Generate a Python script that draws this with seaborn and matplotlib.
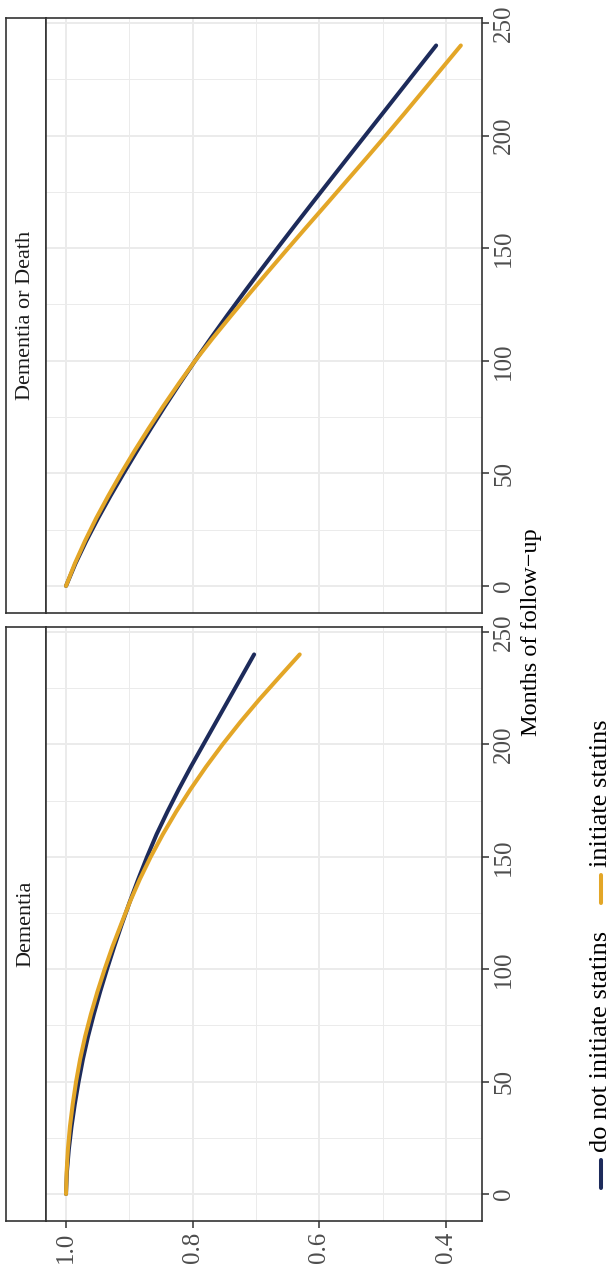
import numpy as np
import pandas as pd
import matplotlib
matplotlib.use("Agg")
import matplotlib.pyplot as plt
import seaborn as sns
from matplotlib.lines import Line2D

# ---------------- data ----------------
months = [0, 10, 20, 30, 40, 50, 60, 70, 80, 90, 100, 110, 120,
          130, 140, 150, 160, 170, 180, 190, 200, 210, 220, 230, 240]
dementia_no = [1.000, 0.9985, 0.9955, 0.9913, 0.9861, 0.9801, 0.9733, 0.9653, 0.9561,
               0.9461, 0.9353, 0.9239, 0.9119, 0.8993, 0.886, 0.872, 0.857, 0.840,
               0.822, 0.803, 0.783, 0.763, 0.743, 0.723, 0.703]
dementia_yes = [1.000, 0.999, 0.997, 0.9938, 0.9894, 0.9841, 0.9777, 0.9699, 0.9607,
                0.9504, 0.9390, 0.9267, 0.913, 0.899, 0.8835, 0.8662, 0.8471, 0.8262,
                0.8035, 0.7790, 0.7527, 0.7246, 0.6947, 0.6630, 0.6310]
dd_no = [1.000, 0.985, 0.968, 0.9495, 0.9298, 0.9091, 0.8878, 0.8659, 0.8434, 0.8202,
         0.7962, 0.7714, 0.7459, 0.7198, 0.6932, 0.6662, 0.6389, 0.6113, 0.5835,
         0.5556, 0.5276, 0.4996, 0.4716, 0.4436, 0.4156]
dd_yes = [1.000, 0.986, 0.970, 0.9525, 0.9333, 0.9131, 0.8918, 0.8694, 0.8461, 0.8217,
          0.7962, 0.7684, 0.7394, 0.7098, 0.6797, 0.6492, 0.6184, 0.5873, 0.5565,
          0.5256, 0.4951, 0.4651, 0.4356, 0.4061, 0.3766]

groups = ["do not initiate statins", "initiate statins"]
panels = ["Dementia", "Dementia or Death"]
surv_ticks = [1.0, 0.8, 0.6, 0.4]
surv_labels = ["1.0", "0.8", "0.6", "0.4"]
month_ticks = [0, 50, 100, 150, 200, 250]
xlabel = "Months of follow\u2212up"

colors = {"do not initiate statins": "#1d2b5b", "initiate statins": "#e3a627"}

rows = []
for panel, no, yes in [("Dementia", dementia_no, dementia_yes),
                       ("Dementia or Death", dd_no, dd_yes)]:
    for m, v in zip(months, no):
        rows.append((panel, groups[0], m, v))
    for m, v in zip(months, yes):
        rows.append((panel, groups[1], m, v))
df = pd.DataFrame(rows, columns=["panel", "group", "months", "survival"])

# ---------------- style ----------------
sns.set_theme(style="white")
plt.rcParams['font.family'] = ['Liberation Serif', 'DejaVu Serif']

W, H = 612, 1270
fig = plt.figure(figsize=(W / 100, H / 100), dpi=100)


def rect(x0, y0, x1, y1):
    return [x0 / W, 1 - y1 / H, (x1 - x0) / W, (y1 - y0) / H]


border = "#333333"
grid_c = "#ebebeb"
layout = {"Dementia or Death": (18, 613), "Dementia": (627, 1221)}
strip_x0, panel_x0, panel_x1 = 6, 46, 482

for panel in panels:
    y0, y1 = layout[panel]
    # strip (left side)
    sax = fig.add_axes(rect(strip_x0, y0, panel_x0, y1))
    sax.set_facecolor("white")
    sax.set_xticks([]); sax.set_yticks([])
    for sp in sax.spines.values():
        sp.set_color(border); sp.set_linewidth(1.2); sp.set_visible(True)
    sax.text(0.5, 0.5, panel, rotation=90, ha="center", va="center",
             fontsize=16, color="#1a1a1a", transform=sax.transAxes)

    ax = fig.add_axes(rect(panel_x0, y0, panel_x1, y1))
    ax.set_facecolor("white")
    sub = df[df["panel"] == panel]
    sns.lineplot(data=sub, x="survival", y="months", hue="group",
                 hue_order=groups, palette=colors, orient="y",
                 linewidth=2.9, legend=False, ax=ax)
    ax.set_xlim(1.0316, 0.3432)
    ax.set_ylim(-12, 252.2)

    ax.set_xticks(surv_ticks)
    ax.set_xticks([0.9, 0.7, 0.5], minor=True)
    ax.set_yticks(month_ticks)
    ax.set_yticks([25, 75, 125, 175, 225], minor=True)
    ax.grid(which="major", color=grid_c, linewidth=1.4)
    ax.grid(which="minor", color=grid_c, linewidth=0.7)
    ax.set_axisbelow(True)

    ax.yaxis.tick_right()
    ax.set_yticklabels([str(t) for t in month_ticks])
    ax.tick_params(axis="y", which="major", right=True, left=False, length=5,
                   width=1.1, color=border, labelsize=18, labelcolor="#4d4d4d",
                   pad=3)
    ax.tick_params(axis="both", which="minor", length=0)
    plt.setp(ax.get_yticklabels(), rotation=90, va="center", ha="left")

    if panel == "Dementia":
        ax.set_xticklabels(surv_labels)
        ax.tick_params(axis="x", which="major", bottom=True, length=5,
                       width=1.1, color=border, labelsize=18,
                       labelcolor="#4d4d4d", pad=3)
        plt.setp(ax.get_xticklabels(), rotation=90, ha="center", va="top")
    else:
        ax.tick_params(axis="x", which="major", bottom=False,
                       labelbottom=False, length=0)

    ax.set_xlabel(""); ax.set_ylabel("")
    for sp in ax.spines.values():
        sp.set_color(border); sp.set_linewidth(1.2); sp.set_visible(True)

# axis title (original x-axis, now on the right)
fig.text(531 / W, 1 - 632 / H, xlabel, rotation=90, ha="center", va="center",
         fontsize=17.5, color="black")

# legend (manual, rotated)
leg_x = 601 / W
key_specs = [(groups[0], 1188, 1160), (groups[1], 903, 875)]
for g, ybot, ytop in key_specs:
    fig.add_artist(Line2D([leg_x, leg_x], [1 - ybot / H, 1 - ytop / H],
                          color=colors[g], linewidth=2.9,
                          transform=fig.transFigure))
    fig.text(leg_x, 1 - (ytop - 8) / H, g, rotation=90, ha="center",
             va="bottom", fontsize=19, color="black")

fig.savefig("out.png", dpi=100)
